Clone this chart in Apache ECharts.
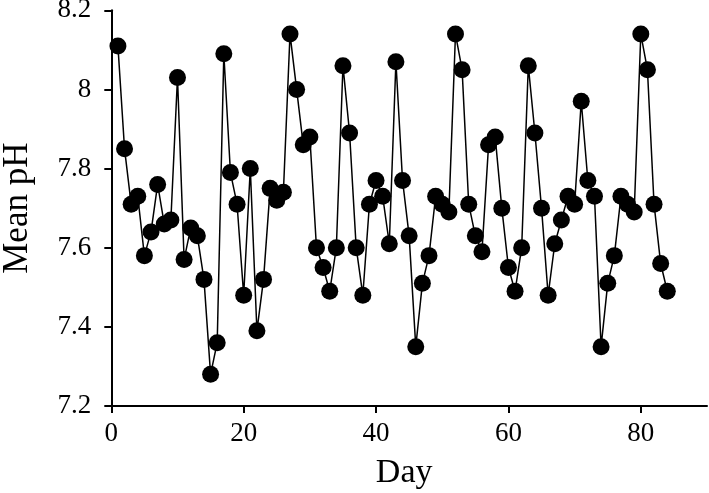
<!DOCTYPE html>
<html>
<head>
<meta charset="utf-8">
<script src="https://cdn.jsdelivr.net/npm/echarts@6/dist/echarts.min.js"></script>
<style>
html,body{margin:0;padding:0;background:#fff;}
#chart{width:709px;height:493px;}
</style>
</head>
<body>
<div id="chart"></div>
<script>
const days = [];
for (let d = 1; d <= 84; d++) days.push(d);
const meanPH = [
  8.11, 7.85, 7.71, 7.73, 7.58, 7.64, 7.76, 7.66, 7.67, 8.03,
  7.57, 7.65, 7.63, 7.52, 7.28, 7.36, 8.09, 7.79, 7.71, 7.48,
  7.80, 7.39, 7.52, 7.75, 7.72, 7.74, 8.14, 8.00, 7.86, 7.88,
  7.60, 7.55, 7.49, 7.60, 8.06, 7.89, 7.60, 7.48, 7.71, 7.77,
  7.73, 7.61, 8.07, 7.77, 7.63, 7.35, 7.51, 7.58, 7.73, 7.71,
  7.69, 8.14, 8.05, 7.71, 7.63, 7.59, 7.86, 7.88, 7.70, 7.55,
  7.49, 7.60, 8.06, 7.89, 7.70, 7.48, 7.61, 7.67, 7.73, 7.71,
  7.97, 7.77, 7.73, 7.35, 7.51, 7.58, 7.73, 7.71, 7.69, 8.14,
  8.05, 7.71, 7.56, 7.49
];
const xTicks = [0, 20, 40, 60, 80];
const yTicks = [7.2, 7.4, 7.6, 7.8, 8, 8.2];
const xTitle = 'Day';
const yTitle = 'Mean pH';

const font = '"Liberation Serif", "Times New Roman", serif';
const chart = echarts.init(document.getElementById('chart'), null, {renderer: 'canvas'});
chart.setOption({
  animation: false,
  backgroundColor: '#ffffff',
  grid: {left: 111.3, right: 2, top: 10.3, bottom: 87, containLabel: false, outerBoundsMode: 'none'},
  xAxis: {
    type: 'value', min: 0, max: 90, interval: 20,
    name: xTitle, nameLocation: 'middle', nameGap: 50,
    nameTextStyle: {fontFamily: font, fontSize: 34, color: '#000', padding: [0, 10, 0, 0]},
    axisLine: {show: true, lineStyle: {color: '#000', width: 2}},
    axisTick: {show: true, length: 7, inside: false, lineStyle: {color: '#000', width: 2}, customValues: xTicks},
    axisLabel: {fontFamily: font, fontSize: 27, color: '#000', margin: 14, customValues: xTicks},
    splitLine: {show: false}
  },
  yAxis: {
    type: 'value', min: 7.2, max: 8.2, interval: 0.2,
    name: yTitle, nameLocation: 'middle', nameGap: 76, nameRotate: 90,
    nameTextStyle: {fontFamily: font, fontSize: 35, color: '#000'},
    axisLine: {show: true, lineStyle: {color: '#000', width: 2}},
    axisTick: {show: true, length: 7, lineStyle: {color: '#000', width: 2}, customValues: yTicks},
    axisLabel: {fontFamily: font, fontSize: 27, color: '#000', margin: 20, customValues: yTicks,
      formatter: v => String(Math.round(v * 10) / 10)},
    splitLine: {show: false}
  },
  series: [{
    type: 'line',
    data: days.map((d, i) => [d, meanPH[i]]),
    symbol: 'circle', symbolSize: 17,
    showAllSymbol: true,
    itemStyle: {color: '#000'},
    lineStyle: {color: '#000', width: 1.5}
  }]
});
</script>
</body>
</html>
